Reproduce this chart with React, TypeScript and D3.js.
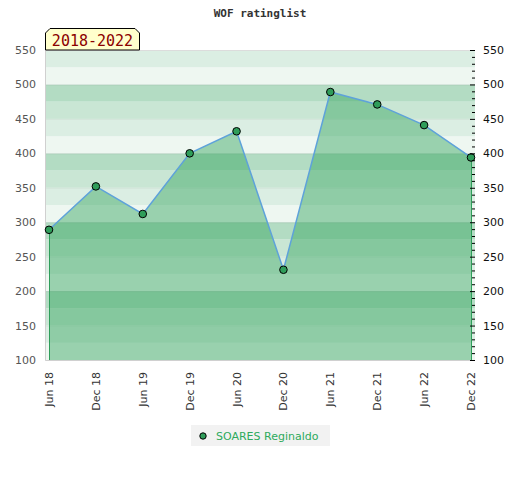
import { useEffect, useRef } from "react"
import * as d3 from "d3"

const title = "WOF ratinglist"
const rangeLabel = "2018-2022"
const playerName = "SOARES Reginaldo"

const periods = ["Jun 18", "Dec 18", "Jun 19", "Dec 19", "Jun 20", "Dec 20", "Jun 21", "Dec 21", "Jun 22", "Dec 22"]
const ratings = [289, 352, 312, 400, 432, 231, 489, 471, 441, 394]

const yTicks = [100, 150, 200, 250, 300, 350, 400, 450, 500, 550]

// colours of the 25-point stripes, from the bottom quarter of each hundred up
const bandColors = ["#eef7f1", "#dbeee3", "#c9e6d4", "#b3dcc3"]

const WIDTH = 520
const HEIGHT = 480

const App = () => {
  const svgRef = useRef<SVGSVGElement | null>(null)

  useEffect(() => {
    const left = 45
    const right = 475
    const top = 50
    const bottom = 360

    const x = d3.scalePoint<string>()
      .domain(periods)
      .range([left + 4, right - 4])

    const y = d3.scaleLinear()
      .domain([100, 550])
      .range([bottom, top])

    const svg = d3.select(svgRef.current)
      .attr("width", WIDTH)
      .attr("height", HEIGHT)

    svg.selectAll("*").remove()

    svg.append("rect")
      .attr("width", WIDTH)
      .attr("height", HEIGHT)
      .attr("fill", "#fff")

    // title
    svg.append("text")
      .attr("x", WIDTH / 2)
      .attr("y", 17)
      .attr("text-anchor", "middle")
      .attr("font-family", "DejaVu Sans Mono")
      .attr("font-weight", "bold")
      .attr("font-size", 11)
      .attr("fill", "#333")
      .text(title)

    // stripes
    const bandStarts = d3.range(100, 550, 25)
    svg.append("g")
      .selectAll("rect")
      .data(bandStarts)
      .enter()
      .append("rect")
      .attr("x", left + 1)
      .attr("width", right - left - 1)
      .attr("y", d => y(d + 25))
      .attr("height", d => y(d) - y(d + 25))
      .attr("fill", d => bandColors[((d - 100) / 25) % 4])

    // grid lines
    svg.append("g")
      .selectAll("line")
      .data(yTicks)
      .enter()
      .append("line")
      .attr("x1", left)
      .attr("x2", right)
      .attr("y1", d => y(d) + 0.5)
      .attr("y2", d => y(d) + 0.5)
      .attr("stroke", "#000")
      .attr("stroke-opacity", d => (d % 100 === 0 ? 0.07 : 0.04))

    // plot frame (left, bottom, top)
    svg.append("path")
      .attr("d", `M${left + 0.5},${top + 0.5}V${bottom + 0.5}H${right}`)
      .attr("fill", "none")
      .attr("stroke", "#d0d0d0")
    svg.append("line")
      .attr("x1", left)
      .attr("x2", right)
      .attr("y1", top + 0.5)
      .attr("y2", top + 0.5)
      .attr("stroke", "#dcdcdc")

    const data = periods.map((p, i) => ({ p, v: ratings[i] }))

    const area = d3.area<{ p: string, v: number }>()
      .x(d => x(d.p) as number)
      .y0(bottom)
      .y1(d => y(d.v))

    svg.append("path")
      .datum(data)
      .attr("d", area)
      .attr("fill", "rgb(45,161,89)")
      .attr("fill-opacity", 0.44)

    // vertical edges of the area
    const first = data[0]
    const last = data[data.length - 1]
    svg.append("g")
      .selectAll("line")
      .data([first, last])
      .enter()
      .append("line")
      .attr("x1", d => (x(d.p) as number) + 0.5)
      .attr("x2", d => (x(d.p) as number) + 0.5)
      .attr("y1", d => y(d.v))
      .attr("y2", bottom)
      .attr("stroke", "#2f9d5a")
      .attr("stroke-width", 1)

    const line = d3.line<{ p: string, v: number }>()
      .x(d => x(d.p) as number)
      .y(d => y(d.v))

    svg.append("path")
      .datum(data)
      .attr("d", line)
      .attr("fill", "none")
      .attr("stroke", "#5ea2da")
      .attr("stroke-width", 1.5)

    svg.append("g")
      .selectAll("circle")
      .data(data)
      .enter()
      .append("circle")
      .attr("cx", d => x(d.p) as number)
      .attr("cy", d => y(d.v))
      .attr("r", 3.8)
      .attr("fill", "#2f9d5a")
      .attr("stroke", "#000")
      .attr("stroke-width", 1)

    // left axis labels
    svg.append("g")
      .selectAll("text")
      .data(yTicks)
      .enter()
      .append("text")
      .attr("x", 36)
      .attr("y", d => y(d) + 4)
      .attr("text-anchor", "end")
      .attr("font-family", "DejaVu Sans")
      .attr("font-size", 11)
      .attr("fill", "#555")
      .text(d => d)

    // right axis ticks and labels
    const minor = d3.range(100, 551, 10)
    svg.append("g")
      .selectAll("line")
      .data(minor)
      .enter()
      .append("line")
      .attr("x1", d => (d % 50 === 0 ? right - 5 : right - 3))
      .attr("x2", right)
      .attr("y1", d => y(d) + 0.5)
      .attr("y2", d => y(d) + 0.5)
      .attr("stroke", "#000")

    svg.append("g")
      .selectAll("text")
      .data(yTicks)
      .enter()
      .append("text")
      .attr("x", 483)
      .attr("y", d => y(d) + 4)
      .attr("font-family", "DejaVu Sans")
      .attr("font-size", 11)
      .attr("fill", "#111")
      .text(d => d)

    // x labels
    svg.append("g")
      .selectAll("text")
      .data(periods)
      .enter()
      .append("text")
      .attr("transform", d => `translate(${(x(d) as number) + 4},${372}) rotate(-90)`)
      .attr("text-anchor", "end")
      .attr("font-family", "DejaVu Sans")
      .attr("font-size", 11)
      .attr("fill", "#333")
      .text(d => d)

    // period box
    const bx0 = 45
    const bx1 = 140
    const by0 = 28
    const by1 = 50
    svg.append("path")
      .attr("d", `M${bx0 + 0.5},${by1}V${by0 + 5}L${bx0 + 5},${by0 + 0.5}H${bx1 - 5}L${bx1 - 0.5},${by0 + 5}V${by1}Z`)
      .attr("fill", "#ffffcc")
      .attr("stroke", "#000")
    svg.append("text")
      .attr("x", (bx0 + bx1) / 2)
      .attr("y", 46)
      .attr("text-anchor", "middle")
      .attr("font-family", "DejaVu Sans Mono")
      .attr("font-size", 15)
      .attr("fill", "#8b0000")
      .text(rangeLabel)

    // legend
    svg.append("rect")
      .attr("x", 191)
      .attr("y", 425)
      .attr("width", 139)
      .attr("height", 21)
      .attr("fill", "#f2f2f2")
    svg.append("circle")
      .attr("cx", 203)
      .attr("cy", 436)
      .attr("r", 3.2)
      .attr("fill", "#2f9d5a")
      .attr("stroke", "#000")
    svg.append("text")
      .attr("x", 216)
      .attr("y", 440)
      .attr("font-family", "DejaVu Sans")
      .attr("font-size", 11)
      .attr("fill", "#2eaa5c")
      .text(playerName)
  }, [])

  return <svg ref={svgRef} style={{ position: "absolute", left: 0, top: 0 }}></svg>
}

export default App
